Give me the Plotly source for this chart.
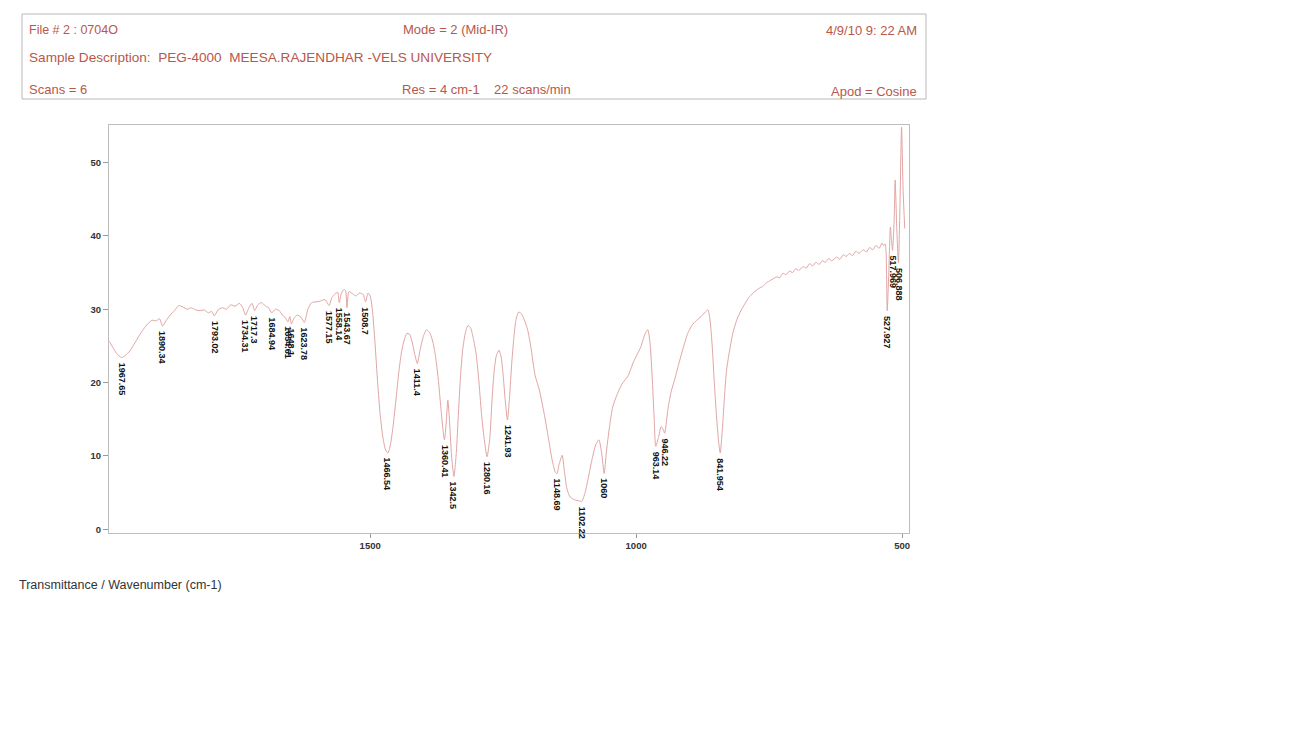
import plotly.graph_objects as go

# FT-IR transmittance spectrum of PEG-4000 (wavenumber in cm-1, %T)
wavenumber = [
    1990, 1984, 1977, 1967.65, 1960, 1952, 1944, 1935, 1926, 1917, 1910, 1902, 1896,
    1890.34, 1884, 1876, 1868, 1860, 1852, 1844, 1836, 1828, 1820, 1812, 1804, 1798,
    1793.02, 1786, 1778, 1770, 1762, 1754, 1746, 1740, 1734.31, 1728, 1722, 1717.3,
    1711, 1704, 1698, 1691, 1684.94, 1678, 1671, 1665, 1660, 1654.61, 1651, 1648.1,
    1643, 1637, 1630, 1623.78, 1617, 1610, 1602, 1594, 1585, 1577.15, 1572, 1566,
    1561, 1558.14, 1554, 1549, 1546, 1543.67, 1540, 1533, 1527, 1520, 1513, 1508.7,
    1504, 1500, 1496, 1491, 1486, 1481, 1476, 1471, 1466.54, 1462, 1457, 1451, 1446,
    1441, 1436, 1431, 1426, 1421, 1416, 1411.4, 1406, 1400, 1394, 1388, 1382, 1377,
    1372, 1367, 1363, 1360.41, 1357, 1354, 1351, 1347, 1342.5, 1338, 1334, 1330,
    1326, 1321, 1316, 1311, 1306, 1301, 1296, 1291, 1286, 1280.16, 1275, 1271, 1267,
    1263, 1258, 1254, 1250, 1246, 1241.93, 1238, 1234, 1230, 1226, 1221, 1216, 1210,
    1204, 1198, 1190, 1182, 1173, 1165, 1158, 1152, 1148.69, 1145, 1139, 1135, 1130,
    1124, 1115, 1108, 1102.22, 1096, 1090, 1083, 1076, 1070, 1065, 1060, 1056, 1050,
    1044, 1035, 1025, 1016, 1005, 991, 984, 978, 974, 970, 966, 963.14, 958, 953, 949,
    946.22, 940, 934, 928, 920, 912, 903, 895, 886, 878, 870, 865, 861, 857, 853, 849,
    845, 841.954, 838, 834, 830, 824, 818, 811, 803, 795, 788, 780, 770, 762, 755,
    748, 741, 736, 730, 724, 718, 712, 706, 700, 694, 686, 680, 674, 668, 662, 656,
    650, 644, 638, 632, 623, 617, 611, 605, 599, 593, 587, 581, 573, 567, 561, 555,
    549, 543, 538, 535, 532, 530, 527.927, 525, 522, 520, 517.969, 515, 513, 510,
    506.888, 504, 501, 498, 495,
]
transmittance = [
    25.6, 24.8, 24.0, 23.4, 23.7, 24.3, 25.2, 26.3, 27.3, 28.1, 28.5, 28.4, 28.7,
    27.7, 28.4, 29.2, 29.8, 30.5, 30.3, 30.0, 30.2, 29.9, 29.8, 29.9, 29.5, 29.7,
    29.1, 29.9, 30.2, 30.0, 30.6, 30.4, 30.8, 30.3, 29.2, 30.2, 30.8, 29.8,
    30.6, 30.9, 30.5, 30.2, 29.5, 30.0, 29.8, 29.2, 28.9, 28.3, 29.0, 28.0,
    28.8, 29.2, 28.9, 28.2, 30.0, 30.9, 31.0, 31.1, 31.3, 30.5, 31.6, 32.1,
    32.3, 30.9, 32.2, 32.7, 32.5, 30.2, 32.4, 32.1, 31.8, 32.2, 32.0, 31.0,
    32.2, 31.8, 30.0, 25.5, 20.0, 15.5, 12.5, 10.8, 10.4, 11.5, 14.0, 18.0, 21.5,
    24.2, 25.8, 26.7, 26.6, 25.5, 23.8, 22.6, 24.5, 26.3, 27.2, 26.8, 25.5, 23.5,
    20.5, 16.5, 13.5, 12.2, 14.5, 17.6, 15.0, 10.0, 7.2, 10.5, 16.0, 21.0,
    24.5, 26.8, 27.8, 27.4, 26.0, 24.0, 20.5, 16.0, 12.5, 9.9, 12.5, 17.5, 21.5,
    23.6, 24.4, 23.6, 21.0, 17.5, 14.9, 18.0, 22.5, 26.0, 28.5, 29.6, 29.4, 28.5,
    27.2, 24.9, 21.0, 19.0, 15.8, 12.5, 9.5, 7.8, 7.6, 8.8, 10.1, 8.0, 5.5,
    4.4, 4.0, 3.9, 3.8, 5.0, 7.0, 9.5, 11.5, 12.2, 10.5, 7.6, 10.5, 14.0,
    16.7, 18.5, 20.0, 20.8, 22.8, 24.9, 26.5, 27.2, 25.5, 21.0, 15.0, 11.3, 12.5, 14.0, 13.6,
    13.1, 16.5, 18.8, 20.3, 22.5, 24.6, 26.7, 27.8, 28.5, 29.0, 29.6, 29.9, 28.5, 25.0, 20.0, 15.5,
    12.0, 10.4, 13.5, 18.0, 21.7, 24.5, 26.8, 28.5, 29.8, 30.8, 31.6, 32.2, 32.8, 33.1, 33.6,
    33.9, 34.2, 34.4, 34.3, 34.9, 34.7, 35.2, 35.0, 35.5, 35.3, 35.8, 35.6, 36.2, 35.9, 36.4, 36.1,
    36.6, 36.4, 36.9, 36.6, 37.1, 36.8, 37.4, 37.2, 37.6, 37.3, 37.9, 37.6, 38.1, 37.8, 38.4, 38.1,
    38.7, 38.3, 39.0, 38.7, 38.9, 37.6, 29.8, 35.0, 41.2, 39.5, 38.0, 42.0, 47.6, 41.0,
    36.3, 44.0, 54.8, 46.0, 41.0,
]

# Marked absorption bands (cm-1)
peak_wavenumbers = [
    1967.65, 1890.34, 1793.02, 1734.31, 1717.3, 1684.94, 1654.61, 1648.1, 1623.78,
    1577.15, 1558.14, 1543.67, 1508.7, 1466.54, 1411.4, 1360.41, 1342.5, 1280.16,
    1241.93, 1148.69, 1102.22, 1060, 963.14, 946.22, 841.954, 527.927, 517.969, 506.888,
]

y_ticks = [0, 10, 20, 30, 40, 50]
x_ticks = [1500, 1000, 500]

W, H = 1290, 751
ML, MR, MT, MB = 109, 381, 125, 218
PW, PH = W - ML - MR, H - MT - MB


def px(x):
    return (x - ML) / PW


def py(y):
    return (H - MB - y) / PH


HEADER = "#b9574a"

fig = go.Figure()
fig.add_trace(go.Scatter(
    x=wavenumber, y=transmittance, mode="lines",
    line=dict(color="#e2a4a4", width=1, shape="spline", smoothing=0.6),
    hoverinfo="x+y", showlegend=False,
))

annotations = []
for wn in peak_wavenumbers:
    t = transmittance[wavenumber.index(wn)]
    annotations.append(dict(
        x=wn, y=t, xref="x", yref="y", text=f"<b>{wn:g}</b>", showarrow=False,
        textangle=90, xanchor="center", yanchor="top", yshift=-3,
        font=dict(family="Liberation Sans", size=9, color="#111111"),
    ))

# Instrument header block: (text, x px, y px, anchor, font size)
header = [
    ("File # 2 : 0704O", 27, 30, "left", 12.5),
    ("Mode = 2 (Mid-IR)", 401, 30, "left", 13),
    ("4/9/10 9: 22 AM", 919, 31, "right", 13),
    ("Sample Description:  PEG-4000  MEESA.RAJENDHAR -VELS UNIVERSITY", 27, 58, "left", 13.6),
    ("Scans = 6", 27, 89, "left", 13),
    ("Res = 4 cm-1    22 scans/min", 400, 89, "left", 13),
    ("Apod = Cosine", 919, 91, "right", 13),
]
for text, x, y, anchor, size in header:
    annotations.append(dict(
        x=px(x), y=py(y), xref="paper", yref="paper", text=text, showarrow=False,
        xanchor=anchor, yanchor="middle",
        font=dict(family="Liberation Sans", size=size, color=HEADER),
    ))

annotations.append(dict(
    x=px(17), y=py(585), xref="paper", yref="paper",
    text="Transmittance / Wavenumber (cm-1)", showarrow=False,
    xanchor="left", yanchor="middle",
    font=dict(family="Liberation Sans", size=12.5, color="#333333"),
))

shapes = [dict(
    type="rect", xref="paper", yref="paper",
    x0=px(22), x1=px(926), y0=py(99), y1=py(14),
    line=dict(color="#b8b8b8", width=1), fillcolor="rgba(0,0,0,0)",
)]

axis_font = dict(family="Liberation Sans", size=9.5, color="#333333")
fig.update_layout(
    width=W, height=H,
    margin=dict(l=ML, r=MR, t=MT, b=MB),
    paper_bgcolor="white", plot_bgcolor="white",
    annotations=annotations, shapes=shapes,
    xaxis=dict(
        range=[1991, 487], tickvals=x_ticks, ticktext=[f"<b>{v}</b>" for v in x_ticks],
        ticks="outside", ticklen=4, tickcolor="#999999", tickfont=axis_font,
        showgrid=False, zeroline=False, showline=True, linecolor="#bdbdbd",
        linewidth=1, mirror=True,
    ),
    yaxis=dict(
        range=[-0.5, 55.1], tickvals=y_ticks, ticktext=[f"<b>{v}</b>" for v in y_ticks],
        ticks="outside", ticklen=5, tickcolor="#999999", tickfont=axis_font,
        showgrid=False, zeroline=False, showline=True, linecolor="#bdbdbd",
        linewidth=1, mirror=True,
    ),
)

fig.write_html("out.html")
